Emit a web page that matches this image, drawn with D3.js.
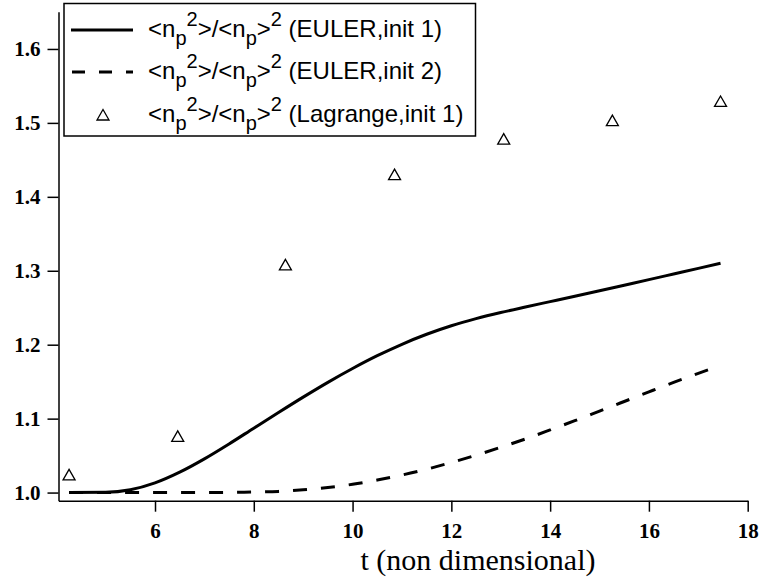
<!DOCTYPE html>
<html lang="en">
<head>
<meta charset="utf-8">
<title>np2 ratio</title>
<script src="https://cdn.jsdelivr.net/npm/d3@7"></script>
<style>
  body { margin: 0; background: #fff; }
  svg { display: block; }
  .axis path, .axis line { stroke: #000; stroke-width: 1.5; }
  .axis text { font-family: "Liberation Serif", serif; font-weight: bold; font-size: 21px; fill: #000; }
  .legend text { font-family: "Liberation Sans", Arial, sans-serif; font-size: 24px; fill: #000; }
  .legend .small { font-size: 20px; }
</style>
</head>
<body>
<svg id="chart" width="762" height="578"></svg>
<script>
// Euler, init 1 (solid)
var tEuler1 = [4.26, 5.0, 5.5, 6.0, 6.5, 7.0, 7.5, 8.0, 8.5, 9.0, 9.5, 10.0, 10.5, 11.0, 11.5, 12.0, 12.5, 13.0, 13.5, 14.0, 14.5, 15.0, 15.5, 16.0, 16.5, 17.0, 17.45];
var vEuler1 = [1.0, 1.0003, 1.0038, 1.0131, 1.0276, 1.0456, 1.0658, 1.0871, 1.1083, 1.1291, 1.1491, 1.1678, 1.1851, 1.2006, 1.2141, 1.2256, 1.2352, 1.2435, 1.251, 1.2583, 1.2656, 1.273, 1.2805, 1.288, 1.2956, 1.3032, 1.3102];

// Euler, init 2 (dashed)
var tEuler2 = [4.26, 5.0, 6.0, 7.0, 7.5, 8.0, 8.5, 9.0, 9.5, 10.0, 10.5, 11.0, 11.5, 12.0, 12.5, 13.0, 13.5, 14.0, 14.5, 15.0, 15.5, 16.0, 16.5, 17.0, 17.45];
var vEuler2 = [1.0, 1.0, 1.0, 1.0, 1.0003, 1.0007, 1.0016, 1.0037, 1.0068, 1.0112, 1.017, 1.0237, 1.0316, 1.0407, 1.0505, 1.0612, 1.0725, 1.0847, 1.0972, 1.1102, 1.1232, 1.1362, 1.149, 1.1612, 1.1718];

// Lagrange, init 1 (triangles)
var tLagr = [4.26, 6.46, 8.64, 10.85, 13.06, 15.26, 17.45];
var vLagr = [1.024, 1.076, 1.308, 1.430, 1.478, 1.503, 1.529];

var xTicks = [6, 8, 10, 12, 14, 16, 18];
var yTicks = [1.0, 1.1, 1.2, 1.3, 1.4, 1.5, 1.6];

var legendLabels = ["EULER,init 1", "EULER,init 2", "Lagrange,init 1"];

var svg = d3.select("#chart");

var x = d3.scaleLinear().domain([4.046, 18]).range([58.5, 747.7]);
var y = d3.scaleLinear().domain([0.989, 1.6504]).range([500.7, 11.7]);

// axes
svg.append("g")
  .attr("class", "axis")
  .attr("transform", "translate(0," + y.range()[0] + ")")
  .call(d3.axisBottom(x).tickValues(xTicks).tickFormat(d3.format("d")).tickSize(11).tickSizeOuter(0).tickPadding(11));

svg.append("g")
  .attr("class", "axis")
  .attr("transform", "translate(" + x.range()[0] + ",0)")
  .call(d3.axisLeft(y).tickValues(yTicks).tickFormat(d3.format(".1f")).tickSize(11).tickSizeOuter(0).tickPadding(7));

// x title
svg.append("text")
  .attr("x", 478).attr("y", 570)
  .attr("text-anchor", "middle")
  .style("font-family", "'Liberation Serif', serif")
  .style("font-size", "30px")
  .text("t (non dimensional)");

// lines
var line = d3.line()
  .x(function(d) { return x(d[0]); })
  .y(function(d) { return y(d[1]); })
  .curve(d3.curveMonotoneX);

svg.append("path")
  .datum(d3.zip(tEuler1, vEuler1))
  .attr("fill", "none").attr("stroke", "#000").attr("stroke-width", 3)
  .attr("d", line);

svg.append("path")
  .datum(d3.zip(tEuler2, vEuler2))
  .attr("fill", "none").attr("stroke", "#000").attr("stroke-width", 3)
  .attr("stroke-dasharray", "14,14")
  .attr("d", line);

var tri = "M0,-5.5L6,5L-6,5Z";

svg.selectAll(".lag")
  .data(d3.zip(tLagr, vLagr))
  .enter().append("path")
  .attr("class", "lag")
  .attr("d", tri)
  .attr("transform", function(d) { return "translate(" + x(d[0]) + "," + y(d[1]) + ")"; })
  .attr("fill", "none").attr("stroke", "#000").attr("stroke-width", 1.3);

// legend
var leg = svg.append("g").attr("class", "legend");
leg.append("rect")
  .attr("x", 64).attr("y", 3.5).attr("width", 411.5).attr("height", 132.5)
  .attr("fill", "#fff").attr("stroke", "#000").attr("stroke-width", 1.5);

var rowY = [30, 72, 115];

leg.append("line").attr("x1", 71).attr("x2", 133).attr("y1", rowY[0]).attr("y2", rowY[0])
  .attr("stroke", "#000").attr("stroke-width", 3);
leg.append("line").attr("x1", 72).attr("x2", 133).attr("y1", rowY[1]).attr("y2", rowY[1])
  .attr("stroke", "#000").attr("stroke-width", 3).attr("stroke-dasharray", "13,14");
leg.append("path").attr("d", tri).attr("transform", "translate(103," + rowY[2] + ")")
  .attr("fill", "none").attr("stroke", "#000").attr("stroke-width", 1.3);

legendLabels.forEach(function(lab, i) {
  var t = leg.append("text").attr("x", 148).attr("y", rowY[i] + 7);
  t.append("tspan").text("<n");
  t.append("tspan").attr("class", "small").attr("dy", 8).text("p");
  t.append("tspan").attr("class", "small").attr("dy", -19).text("2");
  t.append("tspan").attr("dy", 11).text(">/<n");
  t.append("tspan").attr("class", "small").attr("dy", 8).text("p");
  t.append("tspan").attr("dy", -8).text(">");
  t.append("tspan").attr("class", "small").attr("dy", -11).text("2");
  t.append("tspan").attr("dy", 11).text(" (" + lab + ")");
});
</script>
</body>
</html>
